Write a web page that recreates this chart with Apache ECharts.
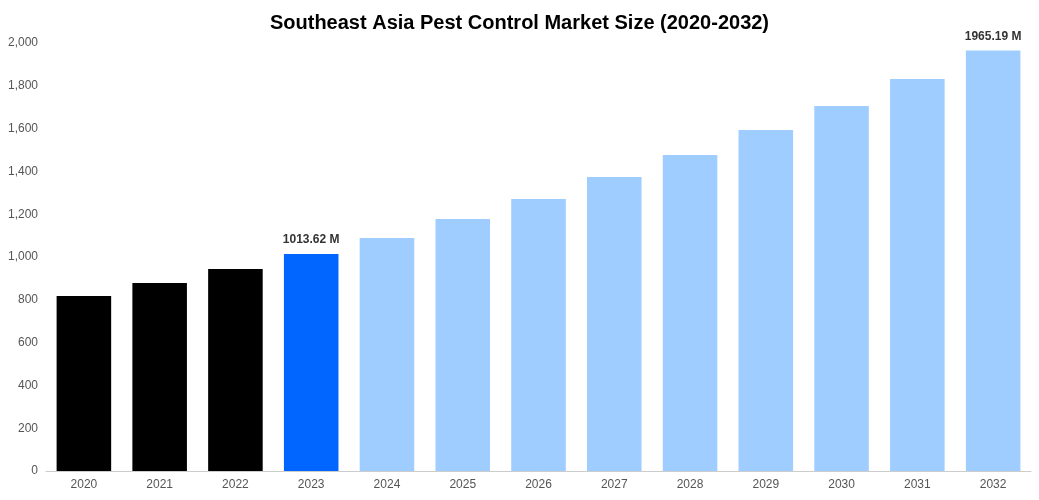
<!DOCTYPE html>
<html>
<head>
<meta charset="utf-8">
<script src="https://cdn.jsdelivr.net/npm/echarts@6/dist/echarts.min.js"></script>
<style>html,body{margin:0;padding:0;background:#fff}#chart{width:1039px;height:500px}</style>
</head>
<body>
<div id="chart"></div>
<script>
var years = ['2020', '2021', '2022', '2023', '2024', '2025', '2026', '2027', '2028', '2029', '2030', '2031', '2032'];
var values = [818, 878, 944, 1013.62, 1089, 1178, 1271, 1374, 1477, 1593, 1706, 1832, 1965.19];
var barColors = ['#000000', '#000000', '#000000', '#0066ff', '#a0cdff', '#a0cdff', '#a0cdff', '#a0cdff', '#a0cdff', '#a0cdff', '#a0cdff', '#a0cdff', '#a0cdff'];
var labelled = ['2023', '2032'];

var myChart = echarts.init(document.getElementById('chart'));

var data = values.map(function (v, i) {
    return {
        value: v,
        itemStyle: { color: barColors[i] },
        label: {
            show: labelled.indexOf(years[i]) >= 0,
            position: 'top',
            distance: 8,
            formatter: v + ' M',
            color: '#333',
            fontWeight: 'bold',
            fontSize: 12
        }
    };
});

var option = {
    textStyle: { fontFamily: 'Arial, Liberation Sans, sans-serif' },
    title: {
        text: 'Southeast Asia Pest Control Market Size (2020-2032)',
        left: 'center',
        top: 8,
        textStyle: { fontSize: 20, fontWeight: 'bold', color: '#000' }
    },
    grid: { left: 46, right: 8, top: 43, bottom: 29 },
    xAxis: {
        type: 'category',
        data: years,
        axisTick: { show: false },
        axisLine: { lineStyle: { color: '#ccc' } },
        axisLabel: { color: '#555', fontSize: 12 }
    },
    yAxis: {
        type: 'value',
        min: 0,
        max: 2000,
        interval: 200,
        splitLine: { show: false },
        axisLine: { show: false },
        axisLabel: {
            color: '#555',
            fontSize: 12,
            formatter: function (v) { return v.toLocaleString('en-US'); }
        }
    },
    series: [{
        type: 'bar',
        barWidth: '72%',
        data: data
    }]
};

myChart.setOption(option);
</script>
</body>
</html>
